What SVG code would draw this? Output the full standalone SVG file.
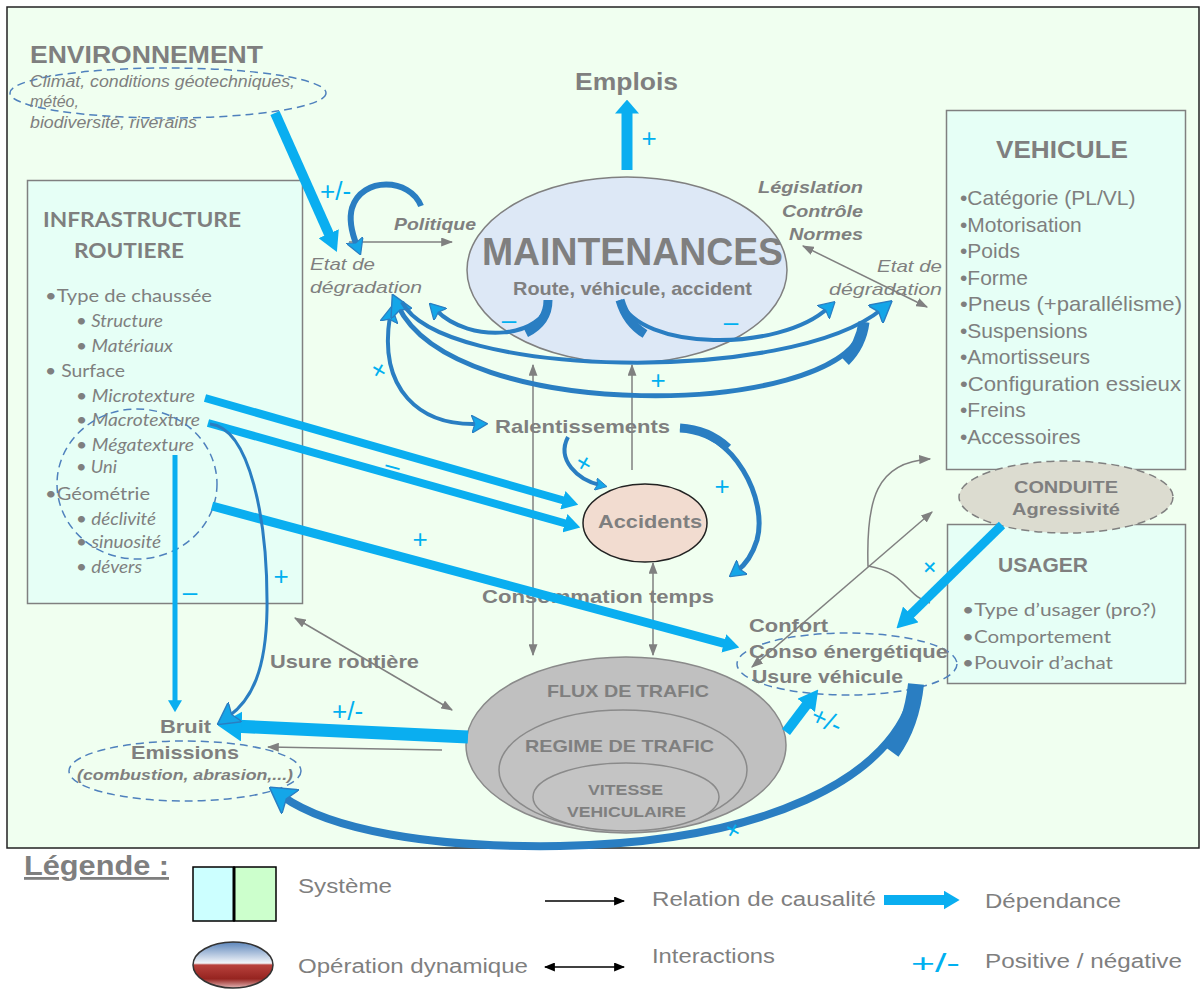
<svg xmlns="http://www.w3.org/2000/svg" width="1201" height="989" viewBox="0 0 1201 989">
<style>
.t{font-family:"Liberation Sans",Arial,sans-serif;fill:#7f7f7f;font-weight:bold}
.n{font-family:"Liberation Sans",Arial,sans-serif;fill:#7f7f7f}
.c{font-family:Lato,"Open Sans",sans-serif;fill:#7f7f7f}
.i{font-style:italic}
.s{font-family:"Liberation Sans",Arial,sans-serif;fill:#00b0f0;font-size:26px}
.box{fill:#e6fff6;stroke:#808080;stroke-width:1.5}
.dash{fill:none;stroke:#4f81bd;stroke-width:1.5;stroke-dasharray:8 5}
.g{fill:none;stroke:#808080;stroke-width:1.5}
.bl{fill:none;stroke:#0aaef0;stroke-linecap:butt}
.cv{fill:none;stroke:#2a7ec2;stroke-linecap:butt}
</style>
<defs>
<marker id="gh" viewBox="0 0 10 10" refX="9" refY="5" markerUnits="userSpaceOnUse" markerWidth="12" markerHeight="9" orient="auto-start-reverse" preserveAspectRatio="none"><path d="M0,0 L10,5 L0,10 z" fill="#808080"/></marker>
<marker id="kh" viewBox="0 0 10 10" refX="9" refY="5" markerUnits="userSpaceOnUse" markerWidth="11" markerHeight="9" orient="auto-start-reverse" preserveAspectRatio="none"><path d="M0,0 L10,5 L0,10 z" fill="#000"/></marker>
<marker id="hb20" viewBox="0 0 10 10" refX="4" refY="5" markerUnits="userSpaceOnUse" markerWidth="20" markerHeight="22" orient="auto" preserveAspectRatio="none"><path d="M0,0 L10,5 L0,10 z" fill="#0aaef0"/></marker>
<marker id="hb14" viewBox="0 0 10 10" refX="4" refY="5" markerUnits="userSpaceOnUse" markerWidth="14" markerHeight="24" orient="auto" preserveAspectRatio="none"><path d="M0,0 L10,5 L0,10 z" fill="#0aaef0"/></marker>
<marker id="hb16" viewBox="0 0 10 10" refX="4" refY="5" markerUnits="userSpaceOnUse" markerWidth="16" markerHeight="19" orient="auto" preserveAspectRatio="none"><path d="M0,0 L10,5 L0,10 z" fill="#0aaef0"/></marker>
<marker id="hb12" viewBox="0 0 10 10" refX="4" refY="5" markerUnits="userSpaceOnUse" markerWidth="12" markerHeight="14" orient="auto" preserveAspectRatio="none"><path d="M0,0 L10,5 L0,10 z" fill="#0aaef0"/></marker>
<marker id="hb24" viewBox="0 0 10 10" refX="4" refY="5" markerUnits="userSpaceOnUse" markerWidth="24" markerHeight="30" orient="auto" preserveAspectRatio="none"><path d="M0,0 L10,5 L0,10 z" fill="#0aaef0"/></marker>
<marker id="hc16" viewBox="0 0 10 10" refX="4" refY="5" markerUnits="userSpaceOnUse" markerWidth="16" markerHeight="18" orient="auto-start-reverse" preserveAspectRatio="none"><path d="M0,0 L10,5 L0,10 L2,5 z" fill="#14a6e8" stroke="#2a7ec2" stroke-width="0.7"/></marker>
<marker id="hc12" viewBox="0 0 10 10" refX="4" refY="5" markerUnits="userSpaceOnUse" markerWidth="12" markerHeight="13" orient="auto-start-reverse" preserveAspectRatio="none"><path d="M0,0 L10,5 L0,10 L2,5 z" fill="#14a6e8" stroke="#2a7ec2" stroke-width="0.7"/></marker>
<marker id="hc22" viewBox="0 0 10 10" refX="4" refY="5" markerUnits="userSpaceOnUse" markerWidth="22" markerHeight="24" orient="auto-start-reverse" preserveAspectRatio="none"><path d="M0,0 L10,5 L0,10 L2,5 z" fill="#14a6e8" stroke="#2a7ec2" stroke-width="0.6"/></marker>
<marker id="hc26" viewBox="0 0 10 10" refX="4" refY="5" markerUnits="userSpaceOnUse" markerWidth="26" markerHeight="30" orient="auto" preserveAspectRatio="none"><path d="M0,0 L10,5 L0,10 L2,5 z" fill="#14a6e8" stroke="#2a7ec2" stroke-width="0.5"/></marker>
<linearGradient id="op" x1="0" y1="0" x2="0" y2="1">
<stop offset="0" stop-color="#5d86bb"/><stop offset="0.46" stop-color="#f2f5f9"/><stop offset="0.5" stop-color="#b8413c"/><stop offset="0.8" stop-color="#962420"/><stop offset="1" stop-color="#e3b5b5"/>
</linearGradient>
</defs>

<rect x="0" y="0" width="1201" height="989" fill="#ffffff"/>
<rect id="frame" x="7" y="7" width="1192" height="841" fill="#f0fff0" stroke="#222" stroke-width="1.5"/>

<g id="environnement">
<ellipse class="dash" cx="168" cy="93" rx="158" ry="25"/>
<text class="t" x="30" y="63" font-size="24" textLength="233" lengthAdjust="spacingAndGlyphs">ENVIRONNEMENT</text>
<text class="n i" x="30" y="87" font-size="16" textLength="265" lengthAdjust="spacingAndGlyphs">Climat, conditions géotechniques,</text>
<text class="n i" x="30" y="107" font-size="16">météo,</text>
<text class="n i" x="30" y="128" font-size="16" textLength="167" lengthAdjust="spacingAndGlyphs">biodiversité, riverains</text>
</g>

<g id="infrastructure">
<rect class="box" x="27.5" y="180.5" width="275" height="423"/>
<text class="c" x="43" y="227" font-size="20" font-weight="bold" textLength="198" lengthAdjust="spacingAndGlyphs">INFRASTRUCTURE</text>
<text class="c" x="74" y="258" font-size="20" font-weight="bold" textLength="110" lengthAdjust="spacingAndGlyphs">ROUTIERE</text>
<g class="c" font-size="18" lengthAdjust="spacingAndGlyphs">
<text x="45" y="302" textLength="167" lengthAdjust="spacingAndGlyphs">•Type de chaussée</text>
<text class="i" x="76" y="327" textLength="87" lengthAdjust="spacingAndGlyphs">• Structure</text>
<text class="i" x="76" y="352" textLength="97" lengthAdjust="spacingAndGlyphs">• Matériaux</text>
<text x="45" y="377" textLength="80" lengthAdjust="spacingAndGlyphs">• Surface</text>
<text class="i" x="76" y="402" textLength="119" lengthAdjust="spacingAndGlyphs">• Microtexture</text>
<text class="i" x="76" y="426" textLength="124" lengthAdjust="spacingAndGlyphs">• Macrotexture</text>
<text class="i" x="76" y="451" textLength="118" lengthAdjust="spacingAndGlyphs">• Mégatexture</text>
<text class="i" x="76" y="473" textLength="41" lengthAdjust="spacingAndGlyphs">• Uni</text>
<text x="45" y="500" textLength="105" lengthAdjust="spacingAndGlyphs">•Géométrie</text>
<text class="i" x="76" y="525" textLength="80" lengthAdjust="spacingAndGlyphs">• déclivité</text>
<text class="i" x="76" y="548" textLength="85" lengthAdjust="spacingAndGlyphs">• sinuosité</text>
<text class="i" x="76" y="573" textLength="66" lengthAdjust="spacingAndGlyphs">• dévers</text>
</g>
<ellipse class="dash" cx="137" cy="484" rx="80" ry="75"/>
</g>

<g id="vehicule">
<rect class="box" x="946.5" y="110.5" width="239" height="359"/>
<text class="t" x="996" y="158" font-size="24" textLength="132" lengthAdjust="spacingAndGlyphs">VEHICULE</text>
<g class="n" font-size="21">
<text x="960" y="205">•Catégorie (PL/VL)</text>
<text x="960" y="231.5">•Motorisation</text>
<text x="960" y="258">•Poids</text>
<text x="960" y="284.5">•Forme</text>
<text x="960" y="311" textLength="222" lengthAdjust="spacingAndGlyphs">•Pneus (+parallélisme)</text>
<text x="960" y="337.5">•Suspensions</text>
<text x="960" y="364">•Amortisseurs</text>
<text x="960" y="390.5" textLength="221" lengthAdjust="spacingAndGlyphs">•Configuration essieux</text>
<text x="960" y="417">•Freins</text>
<text x="960" y="443.5">•Accessoires</text>
</g>
</g>

<g id="usager">
<rect class="box" x="947.5" y="524.5" width="238" height="159"/>
<text class="t" x="998" y="572" font-size="21" textLength="90" lengthAdjust="spacingAndGlyphs">USAGER</text>
<text class="c" x="962" y="616" font-size="17" textLength="194" lengthAdjust="spacingAndGlyphs">•Type d’usager (pro?)</text>
<text class="c" x="962" y="643" font-size="17" textLength="149" lengthAdjust="spacingAndGlyphs">•Comportement</text>
<text class="c" x="962" y="669" font-size="17" textLength="151" lengthAdjust="spacingAndGlyphs">•Pouvoir d’achat</text>
</g>

<g id="conduite">
<ellipse cx="1066" cy="497" rx="107" ry="36" fill="#dcdcd0" stroke="#808080" stroke-width="1.5" stroke-dasharray="8 5"/>
<text class="t" x="1066" y="493" font-size="17" text-anchor="middle" textLength="104" lengthAdjust="spacingAndGlyphs">CONDUITE</text>
<text class="t" x="1066" y="515" font-size="17" text-anchor="middle" textLength="108" lengthAdjust="spacingAndGlyphs">Agressivité</text>
</g>

<g id="maintenances">
<ellipse cx="627" cy="270" rx="160" ry="93" fill="#dde8f6" stroke="#808080" stroke-width="1.5"/>
<text class="t" x="482" y="265" font-size="38" textLength="301" lengthAdjust="spacingAndGlyphs">MAINTENANCES</text>
<text class="t" x="513" y="295" font-size="19" textLength="239" lengthAdjust="spacingAndGlyphs">Route, véhicule, accident</text>
</g>

<g id="emplois">
<text class="t" x="575" y="90" font-size="23" textLength="103" lengthAdjust="spacingAndGlyphs">Emplois</text>
</g>

<g id="politique">
<text class="t i" x="394" y="230" font-size="17" textLength="82" lengthAdjust="spacingAndGlyphs">Politique</text>
</g>

<g id="etat-gauche">
<text class="n i" x="310" y="270" font-size="17" textLength="65" lengthAdjust="spacingAndGlyphs">Etat de</text>
<text class="n i" x="310" y="293" font-size="17" textLength="112" lengthAdjust="spacingAndGlyphs">dégradation</text>
</g>

<g id="etat-droite">
<text class="n i" x="877" y="272" font-size="17" textLength="65" lengthAdjust="spacingAndGlyphs">Etat de</text>
<text class="n i" x="829" y="295" font-size="17" textLength="113" lengthAdjust="spacingAndGlyphs">dégradation</text>
</g>

<g id="legislation">
<text class="t i" x="758" y="193" font-size="17" textLength="105" lengthAdjust="spacingAndGlyphs">Législation</text>
<text class="t i" x="782" y="217" font-size="17" textLength="81" lengthAdjust="spacingAndGlyphs">Contrôle</text>
<text class="t i" x="789" y="240" font-size="17" textLength="74" lengthAdjust="spacingAndGlyphs">Normes</text>
</g>

<g id="accidents">
<ellipse cx="645" cy="523" rx="62" ry="39" fill="#f2dcd0" stroke="#222" stroke-width="1.5"/>
<text class="t" x="598" y="528" font-size="19" textLength="104" lengthAdjust="spacingAndGlyphs">Accidents</text>
</g>

<g id="ralentissements">
<text class="t" x="495" y="433" font-size="19" textLength="175" lengthAdjust="spacingAndGlyphs">Ralentissements</text>
</g>

<g id="consommation-temps">
<text class="t" x="482" y="603" font-size="19" textLength="232" lengthAdjust="spacingAndGlyphs">Consommation temps</text>
</g>

<g id="confort">
<ellipse class="dash" cx="847" cy="664" rx="110" ry="31"/>
<text class="t" x="749" y="632" font-size="19" textLength="79" lengthAdjust="spacingAndGlyphs">Confort</text>
<text class="t" x="749" y="658" font-size="19" textLength="199" lengthAdjust="spacingAndGlyphs">Conso énergétique</text>
<text class="t" x="752" y="683" font-size="19" textLength="151" lengthAdjust="spacingAndGlyphs">Usure véhicule</text>
</g>

<g id="usure-routiere">
<text class="t" x="270" y="668" font-size="18" textLength="149" lengthAdjust="spacingAndGlyphs">Usure routière</text>
</g>

<g id="bruit-emissions">
<ellipse class="dash" cx="185" cy="771" rx="116" ry="30"/>
<text class="t" x="160" y="733" font-size="19" textLength="51" lengthAdjust="spacingAndGlyphs">Bruit</text>
<text class="t" x="131" y="759" font-size="19" textLength="108" lengthAdjust="spacingAndGlyphs">Emissions</text>
<text class="t i" x="77" y="780" font-size="15" textLength="216" lengthAdjust="spacingAndGlyphs">(combustion, abrasion,...)</text>
</g>

<g id="trafic">
<ellipse cx="626" cy="745" rx="160" ry="88" fill="#c0c0c0" stroke="#8a8a8a" stroke-width="1.5"/>
<ellipse cx="623" cy="770" rx="124" ry="60" fill="#c2c2c2" stroke="#8a8a8a" stroke-width="1.5"/>
<ellipse cx="626" cy="797" rx="93" ry="34" fill="#c4c4c4" stroke="#8a8a8a" stroke-width="1.5"/>
<text class="t" x="547" y="697" font-size="17" textLength="162" lengthAdjust="spacingAndGlyphs">FLUX DE TRAFIC</text>
<text class="t" x="525" y="752" font-size="17" textLength="189" lengthAdjust="spacingAndGlyphs">REGIME DE TRAFIC</text>
<text class="t" x="588" y="795" font-size="15" textLength="75" lengthAdjust="spacingAndGlyphs">VITESSE</text>
<text class="t" x="567" y="817" font-size="15" textLength="119" lengthAdjust="spacingAndGlyphs">VEHICULAIRE</text>
</g>

<g id="connectors">
<path class="g" d="M349,242 L452,242" marker-end="url(#gh)"/>
<path class="g" d="M803,246 L927,307" marker-start="url(#gh)" marker-end="url(#gh)"/>
<path class="g" d="M533,365 L533,655" marker-start="url(#gh)" marker-end="url(#gh)"/>
<path class="g" d="M632,470 L632,365" marker-end="url(#gh)"/>
<path class="g" d="M653,563 L653,655" marker-start="url(#gh)" marker-end="url(#gh)"/>
<path class="g" d="M295,618 L452,710" marker-start="url(#gh)" marker-end="url(#gh)"/>
<path class="g" d="M442,750 L268,747" marker-end="url(#gh)"/>
<path class="g" d="M752,667 L932,512" marker-start="url(#gh)" marker-end="url(#gh)"/>
<path class="g" d="M930,603 C906,596 906,572 868,566 C866,500 876,462 930,459" marker-end="url(#gh)"/>

<path class="bl" stroke-width="10" d="M275,113 L332,241" marker-end="url(#hb20)"/>
<path class="bl" stroke-width="11" d="M627,170 L627,108" marker-end="url(#hb14)"/>
<path class="bl" stroke-width="8" d="M205,398 L569,502" marker-end="url(#hb16)"/>
<path class="bl" stroke-width="8" d="M208,423 L571,525" marker-end="url(#hb16)"/>
<path class="bl" stroke-width="9" d="M212,506 L730,645" marker-end="url(#hb16)"/>
<path class="bl" stroke-width="5" d="M175,455 L175,705" marker-end="url(#hb12)"/>
<path class="bl" stroke-width="13" d="M468,737 L232,726" marker-end="url(#hb24)"/>
<path class="bl" stroke-width="10" d="M786,732 L811,699" marker-end="url(#hb20)"/>
<path class="bl" stroke-width="9" d="M1002,525 L905,620" marker-end="url(#hb20)"/>

<path class="cv" stroke-width="6" d="M421,206 C410,178 362,176 352,208 C348,222 353,236 357,246" marker-end="url(#hc16)"/>
<path class="cv" stroke-width="3" d="M210,424 C250,428 268,520 267,610 C266,670 252,700 228,717" marker-end="url(#hc22)"/>
<path class="cv" stroke-width="5" d="M680,428 C735,432 768,500 757,540 C752,556 745,565 737,571" marker-end="url(#hc16)"/>
<path class="cv" stroke-width="9" d="M680,428 C700,429 715,436 728,448"/>
<path class="cv" stroke-width="4" d="M568,437 C556,460 578,480 600,485" marker-end="url(#hc12)"/>
<path class="cv" stroke-width="4" d="M390,316 C378,390 420,426 478,424" marker-start="url(#hc16)" marker-end="url(#hc16)"/>
<path class="cv" stroke-width="4" d="M548,300 C546,338 470,345 436,310" marker-end="url(#hc16)"/>
<path class="cv" stroke-width="9" d="M548,300 C548,315 540,326 526,333"/>
<path class="cv" stroke-width="4" d="M620,300 C640,352 780,352 828,308" marker-end="url(#hc16)"/>
<path class="cv" stroke-width="9" d="M620,300 C624,314 632,326 645,334"/>
<path class="cv" stroke-width="5" d="M862,330 C835,418 455,425 398,306" marker-end="url(#hc22)"/>
<path class="cv" stroke-width="11" d="M864,322 C862,338 856,350 845,361"/>
<path class="cv" stroke-width="4" d="M402,302 C440,378 790,385 882,309" marker-end="url(#hc22)"/>
<path class="cv" stroke-width="8" d="M915,686 C898,780 760,842 560,846 C430,848 330,830 282,796" marker-end="url(#hc26)"/>
<path class="cv" stroke-width="16" d="M916,684 C913,712 905,734 892,752"/>

<text class="s" x="320" y="200">+/-</text>
<text class="s" x="649" y="147" text-anchor="middle" font-size="28">+</text>
<text class="s" x="509" y="329" text-anchor="middle">–</text>
<text class="s" x="731" y="331" text-anchor="middle">–</text>
<text class="s" x="658" y="389" text-anchor="middle">+</text>
<text class="s" x="0" y="9" text-anchor="middle" transform="translate(379,370) rotate(30)">+</text>
<text class="s" x="0" y="9" text-anchor="middle" transform="translate(393,465) rotate(15)">–</text>
<text class="s" x="420" y="548" text-anchor="middle">+</text>
<text class="s" x="190" y="601" text-anchor="middle">–</text>
<text class="s" x="281" y="585" text-anchor="middle">+</text>
<text class="s" x="332" y="720" font-size="24">+/-</text>
<text class="s" x="0" y="9" text-anchor="middle" transform="translate(584,463) rotate(30)">+</text>
<text class="s" x="722" y="495" text-anchor="middle">+</text>
<text class="s" x="0" y="9" text-anchor="middle" transform="translate(930,567) rotate(45)">+</text>
<text class="s" x="0" y="7" text-anchor="middle" font-size="20" transform="translate(826,722) rotate(25)">+/-</text>
<text class="s" x="0" y="9" text-anchor="middle" transform="translate(733,830) rotate(30)">+</text>
</g>

<g id="legend">
<text class="t" x="24" y="875" font-size="28" text-decoration="underline" textLength="145" lengthAdjust="spacingAndGlyphs">Légende :</text>
<rect x="193" y="867" width="41" height="54" fill="#ccffff" stroke="#000" stroke-width="1.5"/>
<rect x="234" y="867" width="42" height="54" fill="#ccffcc" stroke="#000" stroke-width="1.5"/>
<line x1="234" y1="867" x2="234" y2="921" stroke="#000" stroke-width="3"/>
<text class="n" x="298" y="893" font-size="20" textLength="94" lengthAdjust="spacingAndGlyphs">Système</text>
<ellipse cx="233" cy="965" rx="40" ry="23" fill="url(#op)" stroke="#333" stroke-width="1.5"/>
<text class="n" x="298" y="973" font-size="20" textLength="230" lengthAdjust="spacingAndGlyphs">Opération dynamique</text>
<path d="M545,901 L624,901" stroke="#000" stroke-width="1.5" marker-end="url(#kh)"/>
<text class="n" x="652" y="906" font-size="20" textLength="224" lengthAdjust="spacingAndGlyphs">Relation de causalité</text>
<path class="bl" stroke-width="10" d="M884,900 L950,900" marker-end="url(#hb16)"/>
<text class="n" x="985" y="908" font-size="20" textLength="136" lengthAdjust="spacingAndGlyphs">Dépendance</text>
<path d="M545,967 L624,967" stroke="#000" stroke-width="1.5" marker-start="url(#kh)" marker-end="url(#kh)"/>
<text class="n" x="652" y="963" font-size="20" textLength="123" lengthAdjust="spacingAndGlyphs">Interactions</text>
<text class="s" x="911" y="972" font-size="32" textLength="49" lengthAdjust="spacingAndGlyphs">+/-</text>
<text class="n" x="985" y="968" font-size="20" textLength="197" lengthAdjust="spacingAndGlyphs">Positive / négative</text>
</g>
</svg>
